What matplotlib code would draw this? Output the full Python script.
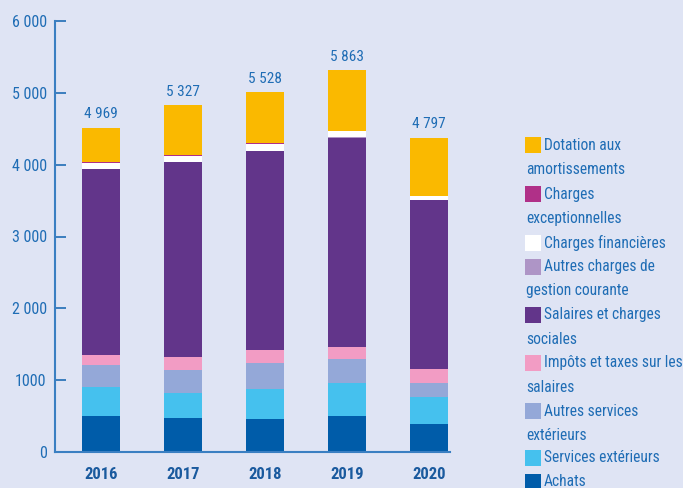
import numpy as np
import matplotlib
matplotlib.use("Agg")
import matplotlib.pyplot as plt
from matplotlib import font_manager
from matplotlib.patches import Rectangle

# pick a narrow font if one is installed
names = {f.name for f in font_manager.fontManager.ttflist}
font = "DejaVu Sans"
for cand in ["Liberation Sans Narrow", "Roboto Condensed", "DejaVu Sans Condensed"]:
    if cand in names:
        font = cand
        break
plt.rcParams['font.family'] = [font, 'DejaVu Sans']

years = ["2016", "2017", "2018", "2019", "2020"]
totals = ["4 969", "5 327", "5 528", "5 863", "4 797"]

achats = [500, 469, 455, 497, 385]
services_ext = [404, 357, 417, 458, 376]
autres_services = [306, 310, 362, 334, 194]
impots = [135, 181, 180, 167, 195]
salaires = [2601, 2726, 2782, 2921, 2365]
autres_gestion = [0, 0, 0, 14, 0]
charges_fin = [83, 84, 97, 83, 55]
charges_exc = [14, 14, 14, 0, 0]
dotation = [474, 695, 710, 849, 807]

series = [
    ("Achats", achats, "#005ca9"),
    ("Services extérieurs", services_ext, "#45c1ee"),
    ("Autres services\nextérieurs", autres_services, "#94a8d8"),
    ("Impôts et taxes sur les\nsalaires", impots, "#f29cc4"),
    ("Salaires et charges\nsociales", salaires, "#62358a"),
    ("Autres charges de\ngestion courante", autres_gestion, "#ae95c6"),
    ("Charges financières", charges_fin, "#ffffff"),
    ("Charges\nexceptionnelles", charges_exc, "#b03088"),
    ("Dotation aux\namortissements", dotation, "#fab900"),
]

bg = "#dfe4f4"
blue = "#1f6db5"

fig = plt.figure(figsize=(6.83, 4.88), dpi=100, facecolor=bg)
ax = fig.add_axes([55 / 683, 36 / 488, 395 / 683, 431 / 488])
ax.set_facecolor(bg)

x = np.arange(len(years))
bottom = np.zeros(len(years))
for label, vals, col in series:
    ax.bar(x, vals, 0.463, bottom=bottom, color=col, linewidth=0)
    bottom += np.array(vals)

for i, t in enumerate(totals):
    ax.text(x[i], bottom[i] + 85, t, ha="center", va="bottom",
            color=blue, fontsize=11)

ax.set_xlim(-0.561, 4.256)
ax.set_ylim(0, 6000)
ax.set_yticks(range(0, 6001, 1000))
ax.set_yticklabels(["0", "1000", "2 000", "3 000", "4 000", "5 000", "6 000"])
ax.set_xticks(x)
ax.set_xticklabels(years, fontweight="bold")
ax.tick_params(axis="y", direction="in", length=8, width=1.2, color=blue,
               labelcolor=blue, labelsize=11.5, pad=6)
ax.tick_params(axis="x", length=0, labelcolor="#1a5a9e", labelsize=12, pad=11)
for s in ["top", "right"]:
    ax.spines[s].set_visible(False)
for s in ["left", "bottom"]:
    ax.spines[s].set_color("#3a7fc2")
    ax.spines[s].set_linewidth(1.5)

# legend drawn by hand so wrapped lines start under the swatch
rows = [145, 194, 243, 267, 315, 363, 411, 458, 482]
for (label, vals, col), yc in zip(series[::-1], rows):
    fig.patches.append(Rectangle((525 / 683, 1 - (yc + 8) / 488), 16 / 683, 16 / 488,
                                 transform=fig.transFigure, color=col, linewidth=0))
    lines = label.split("\n")
    fig.text(544 / 683, 1 - yc / 488, lines[0], ha="left", va="center",
             color=blue, fontsize=11.2)
    if len(lines) > 1:
        fig.text(526 / 683, 1 - (yc + 24) / 488, lines[1], ha="left", va="center",
                 color=blue, fontsize=11.2)

fig.savefig("out.png", dpi=100, facecolor=bg)
